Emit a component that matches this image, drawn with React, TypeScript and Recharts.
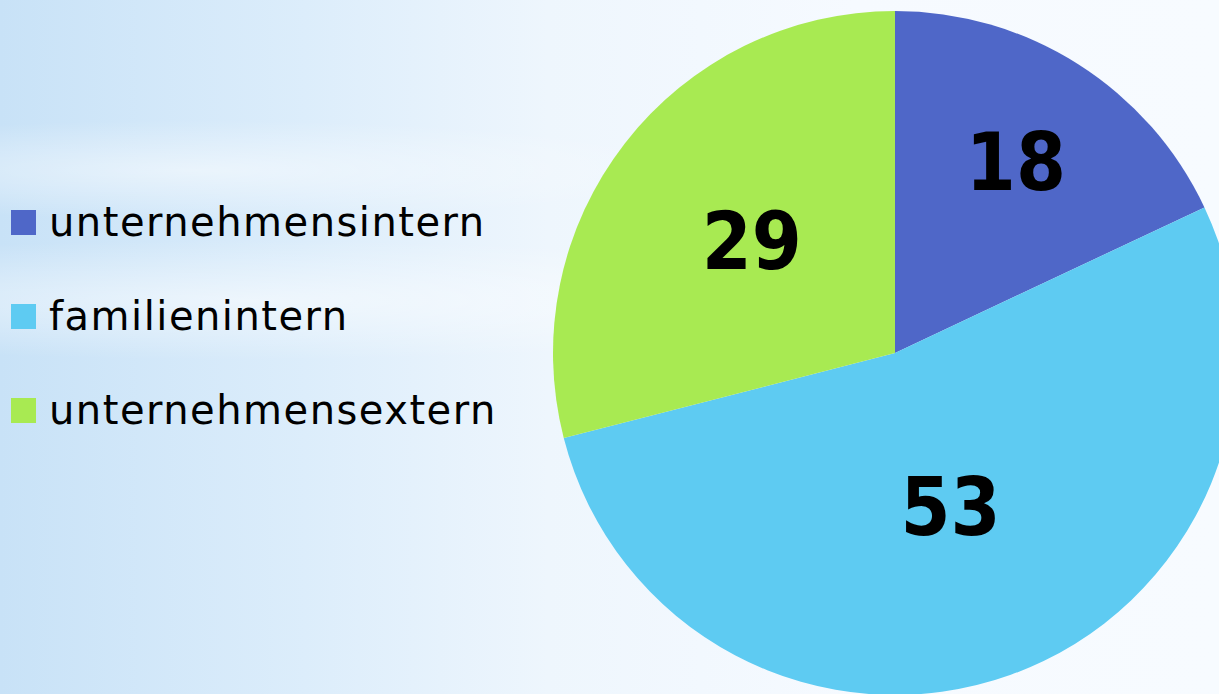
import { PieChart, Pie, Cell } from 'recharts';

const categories = ['unternehmensintern', 'familienintern', 'unternehmensextern'];
const shares = [18, 53, 29];
const sliceColors = ['#4F67C8', '#5ECBF2', '#A8EA52'];

// label distance from centre, as part of the radius (not data)
const labelRadius = [0.66, 0.48, 0.53];

const chartData = categories.map((name, i) => ({ name, value: shares[i] }));

const RADIAN = Math.PI / 180;

const renderLabel = ({ cx, cy, midAngle, outerRadius, index, value }: any) => {
  const r = outerRadius * labelRadius[index];
  const x = cx + r * Math.cos(-midAngle * RADIAN);
  const y = cy + r * Math.sin(-midAngle * RADIAN);
  return (
    <text
      x={x}
      y={y}
      fill="#000"
      textAnchor="middle"
      dominantBaseline="central"
      fontFamily="'DejaVu Sans Condensed', 'DejaVu Sans', sans-serif"
      fontWeight="bold"
      fontSize={80}
    >
      {value}
    </text>
  );
};

const LegendBox = () => (
  <div
    style={{
      position: 'absolute',
      left: 0,
      top: 175,
      fontFamily: "'DejaVu Sans', sans-serif",
    }}
  >
    {categories.map((name, i) => (
      <div
        key={name}
        style={{ display: 'flex', alignItems: 'center', height: 94 }}
      >
        <span
          style={{
            width: 25,
            height: 25,
            background: sliceColors[i],
            marginLeft: 11,
            marginRight: 13,
            display: 'inline-block',
          }}
        />
        <span style={{ fontSize: 40, color: '#000', letterSpacing: 1.5 }}>{name}</span>
      </div>
    ))}
  </div>
);

export default function App() {
  return (
    <div
      style={{
        position: 'fixed',
        left: 0,
        top: 0,
        width: 1219,
        height: 694,
        overflow: 'hidden',
        background:
          'radial-gradient(ellipse 700px 60px at 250px 300px, rgba(255,255,255,0.55), rgba(255,255,255,0) 100%),' +
          'radial-gradient(ellipse 500px 50px at 200px 170px, rgba(255,255,255,0.5), rgba(255,255,255,0) 100%),' +
          'linear-gradient(90deg, #c8e2f7 0%, #dcedfb 25%, #eef6fd 45%, #f6faff 70%, #f7fbff 100%)',
      }}
    >
      <PieChart width={1219} height={694} margin={{ top: 0, right: 0, bottom: 0, left: 0 }}>
        <Pie
          data={chartData}
          dataKey="value"
          nameKey="name"
          cx={895}
          cy={353}
          outerRadius={342}
          startAngle={90}
          endAngle={-270}
          stroke="none"
          labelLine={false}
          label={renderLabel}
          isAnimationActive={false}
        >
          {chartData.map((entry, i) => (
            <Cell key={entry.name} fill={sliceColors[i]} />
          ))}
        </Pie>
      </PieChart>
      <LegendBox />
    </div>
  );
}
